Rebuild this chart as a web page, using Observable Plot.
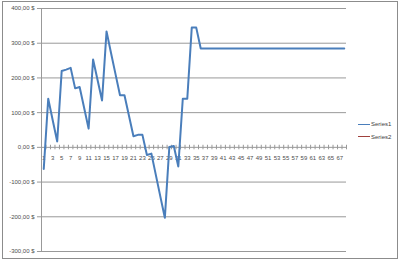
<!DOCTYPE html>
<html>
<head>
<meta charset="utf-8">
<script src="https://cdn.jsdelivr.net/npm/d3@7"></script>
<script src="https://cdn.jsdelivr.net/npm/@observablehq/plot@0.6"></script>
<style>
  html, body { margin: 0; padding: 0; background: #fff; }
  #wrap { position: relative; width: 400px; height: 261px; font-family: "Liberation Sans", Arial, sans-serif; }
  #frame { position: absolute; left: 2px; top: 1px; width: 394px; height: 256px; border: 1px solid #8c8c8c; pointer-events: none; }
  #legend { position: absolute; left: 358px; top: 118px; font-size: 6px; color: #404040; line-height: 12px; }
  #legend .item { display: flex; align-items: center; height: 12.5px; }
  #legend .sw { width: 12px; height: 0; border-top-width: 1.5px; border-top-style: solid; margin-right: 1px; }
</style>
</head>
<body>
<div id="wrap">
  <div id="chart"></div>
  <div id="frame"></div>
  <div id="legend"></div>
</div>
<script>
const seriesNames = ["Series1", "Series2"];
const seriesColors = ["#4A7EBB", "#A0413D"];
const categories = d3.range(1, 69);
const series1 = [
  -62, 140, 78, 17, 220, 224, 229, 170, 174, 114,
  54, 253, 194, 135, 334, 272, 211, 150, 150, 91,
  32, 36, 36, -22, -18, -80, -142, -203, 1, 4,
  -55, 140, 140, 345, 345, 285, 285, 285, 285, 285,
  285, 285, 285, 285, 285, 285, 285, 285, 285, 285,
  285, 285, 285, 285, 285, 285, 285, 285, 285, 285,
  285, 285, 285, 285, 285, 285, 285, 285
];
const yTicks = [-300, -200, -100, 0, 100, 200, 300, 400];
const xTickLabels = categories.filter(c => c % 2 === 1);

const data = categories.map((c, i) => ({cat: c, value: series1[i]}));
const boundaries = d3.range(0, categories.length + 1).map(i => i + 0.5);
const fmt = d => d.toFixed(2).replace(".", ",") + " $";

const chart = Plot.plot({
  width: 400,
  height: 261,
  marginLeft: 41,
  marginRight: 54,
  marginTop: 8,
  marginBottom: 10,
  style: {fontFamily: "Liberation Sans, Arial, sans-serif", fontSize: "6px", color: "#404040", background: "transparent"},
  x: {type: "linear", domain: [0.5, categories.length + 0.5], axis: null},
  y: {type: "linear", domain: [-300, 400], axis: null},
  marks: [
    Plot.ruleY(yTicks, {x1: -0.4, x2: categories.length + 0.5, stroke: "#999999", strokeWidth: 1}),
    Plot.ruleX([0.5], {stroke: "#999999", strokeWidth: 1}),
    Plot.ruleX(boundaries, {y1: -7, y2: 6, stroke: "#999999", strokeWidth: 1}),
    Plot.text(yTicks, {x: 0.5, y: d => d, text: fmt, textAnchor: "end", dx: -7, fontSize: 6, fill: "#4d4d4d"}),
    Plot.text(xTickLabels, {x: d => d, y: 0, text: d => String(d), dy: 11, fontSize: 6, fill: "#4d4d4d"}),
    Plot.line(data, {x: "cat", y: "value", stroke: seriesColors[0], strokeWidth: 2, strokeLinejoin: "round"})
  ]
});
document.getElementById("chart").appendChild(chart);

const legend = document.getElementById("legend");
seriesNames.forEach((n, i) => {
  const item = document.createElement("div");
  item.className = "item";
  const sw = document.createElement("span");
  sw.className = "sw";
  sw.style.borderTopColor = seriesColors[i];
  const t = document.createElement("span");
  t.textContent = n;
  item.appendChild(sw);
  item.appendChild(t);
  legend.appendChild(item);
});
</script>
</body>
</html>
